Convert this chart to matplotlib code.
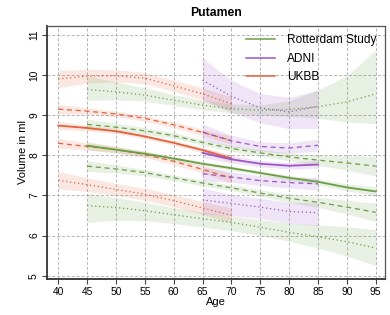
import matplotlib
matplotlib.use('Agg')
import matplotlib.pyplot as plt
import numpy as np

plt.rcParams['font.family'] = ['Liberation Sans', 'DejaVu Sans']

# Rotterdam Study, ages 45-95
rsAges = [45, 50, 55, 60, 65, 70, 75, 80, 85, 90, 95]
rsTop = [9.64, 9.58, 9.50, 9.37, 9.25, 9.16, 9.12, 9.14, 9.21, 9.33, 9.53]
rsTopHi = [0.33, 0.25, 0.18, 0.14, 0.12, 0.12, 0.14, 0.22, 0.42, 0.65, 1.10]
rsTopLo = [0.27, 0.20, 0.15, 0.13, 0.12, 0.11, 0.12, 0.17, 0.29, 0.50, 0.74]
rsUpper = [8.77, 8.70, 8.61, 8.49, 8.32, 8.17, 8.06, 7.96, 7.88, 7.81, 7.73]
rsUpperW = [0.13, 0.10, 0.08, 0.07, 0.07, 0.07, 0.08, 0.10, 0.13, 0.18, 0.25]
rsMid = [8.24, 8.14, 8.04, 7.92, 7.79, 7.68, 7.56, 7.44, 7.34, 7.20, 7.10]
rsMidW = [0.10, 0.08, 0.06, 0.05, 0.05, 0.05, 0.05, 0.06, 0.07, 0.09, 0.11]
rsLower = [7.73, 7.66, 7.57, 7.44, 7.31, 7.19, 7.06, 6.93, 6.83, 6.71, 6.58]
rsLowerW = [0.13, 0.10, 0.08, 0.07, 0.07, 0.07, 0.08, 0.10, 0.13, 0.17, 0.23]
rsBot = [6.75, 6.70, 6.62, 6.52, 6.42, 6.33, 6.21, 6.08, 5.97, 5.85, 5.69]
rsBotHi = [0.30, 0.25, 0.21, 0.18, 0.16, 0.16, 0.19, 0.24, 0.30, 0.37, 0.46]
rsBotLo = [0.42, 0.32, 0.25, 0.22, 0.21, 0.21, 0.21, 0.22, 0.28, 0.36, 0.44]

# ADNI, ages 65-85
adAges = [65, 70, 75, 80, 85]
adTop = [9.87, 9.47, 9.18, 9.08, 9.22]
adTopHi = [0.55, 0.40, 0.36, 0.36, 0.40]
adTopLo = [0.50, 0.40, 0.37, 0.42, 0.55]
adUpper = [8.58, 8.36, 8.22, 8.18, 8.25]
adUpperW = [0.20, 0.14, 0.12, 0.13, 0.15]
adMid = [8.06, 7.90, 7.79, 7.74, 7.77]
adMidW = [0.12, 0.09, 0.08, 0.08, 0.10]
adLower = [7.54, 7.46, 7.37, 7.32, 7.29]
adLowerW = [0.18, 0.13, 0.12, 0.13, 0.16]
adBot = [6.89, 6.80, 6.71, 6.60, 6.57]
adBotHi = [0.30, 0.22, 0.22, 0.23, 0.26]
adBotLo = [0.35, 0.30, 0.28, 0.28, 0.32]

# UKBB, ages 40-70
ukAges = [40, 45, 50, 55, 60, 65, 70]
ukTop = [9.90, 9.97, 9.98, 9.92, 9.73, 9.53, 9.28]
ukTopW = [0.22, 0.17, 0.15, 0.14, 0.14, 0.15, 0.18]
ukUpper = [9.15, 9.10, 9.03, 8.92, 8.76, 8.57, 8.37]
ukUpperW = [0.12, 0.08, 0.07, 0.07, 0.07, 0.08, 0.10]
ukMid = [8.74, 8.68, 8.60, 8.47, 8.31, 8.13, 7.92]
ukMidW = [0.10, 0.07, 0.06, 0.06, 0.06, 0.07, 0.09]
ukLower = [8.30, 8.22, 8.14, 8.02, 7.85, 7.65, 7.43]
ukLowerW = [0.12, 0.09, 0.08, 0.08, 0.08, 0.09, 0.12]
ukBot = [7.38, 7.27, 7.15, 7.03, 6.87, 6.69, 6.50]
ukBotW = [0.22, 0.17, 0.15, 0.15, 0.15, 0.16, 0.19]

green = '#6a9f45'
purple = '#9b55c4'
orange = '#e2623c'

fig = plt.figure(figsize=(3.9, 3.15), dpi=100)
ax = fig.add_axes([0.1197, 0.1143, 0.8674, 0.8032])


def band(ages, center, lo, hi, color):
    c = np.array(center)
    ax.fill_between(ages, c - np.array(lo), c + np.array(hi), color=color,
                    alpha=0.15, linewidth=0, zorder=2)


def cohort(ages, curves, color):
    # curves: (center, lo, hi, style, lw)
    for center, lo, hi, style, lw in curves:
        band(ages, center, lo, hi, color)
    for center, lo, hi, style, lw in curves:
        if style == ':':
            ax.plot(ages, center, color=color, lw=lw, dashes=(1, 2.2), zorder=3)
        elif style == '--':
            ax.plot(ages, center, color=color, lw=lw, dashes=(4, 3), zorder=3)
        else:
            ax.plot(ages, center, color=color, lw=lw, zorder=3)


cohort(ukAges, [(ukTop, ukTopW, ukTopW, ':', 0.9),
                (ukUpper, ukUpperW, ukUpperW, '--', 0.9),
                (ukMid, ukMidW, ukMidW, '-', 1.3),
                (ukLower, ukLowerW, ukLowerW, '--', 0.9),
                (ukBot, ukBotW, ukBotW, ':', 0.9)], orange)
cohort(rsAges, [(rsTop, rsTopLo, rsTopHi, ':', 0.9),
                (rsUpper, rsUpperW, rsUpperW, '--', 0.9),
                (rsMid, rsMidW, rsMidW, '-', 1.3),
                (rsLower, rsLowerW, rsLowerW, '--', 0.9),
                (rsBot, rsBotLo, rsBotHi, ':', 0.9)], green)
cohort(adAges, [(adTop, adTopLo, adTopHi, ':', 0.9),
                (adUpper, adUpperW, adUpperW, '--', 0.9),
                (adMid, adMidW, adMidW, '-', 1.3),
                (adLower, adLowerW, adLowerW, '--', 0.9),
                (adBot, adBotLo, adBotHi, ':', 0.9)], purple)

# legend handles
h1, = ax.plot([], [], color=green, lw=1.1)
h2, = ax.plot([], [], color=purple, lw=1.1)
h3, = ax.plot([], [], color=orange, lw=1.1)
ax.legend([h1, h2, h3], ['Rotterdam Study', 'ADNI', 'UKBB'], loc='upper right',
          frameon=False, fontsize=8.6, handlelength=2.4, handletextpad=1.0,
          labelspacing=0.55, borderaxespad=0.3)

ax.set_xlim(38, 96.6)
ax.set_ylim(4.92, 11.22)
ax.set_xticks(np.arange(40, 96, 5))
ax.set_yticks(np.arange(5, 12, 1))
ax.grid(True, color='#b4b4b4', linestyle=(0, (3, 2)), linewidth=0.7, zorder=0)
ax.set_axisbelow(True)
ax.tick_params(axis='both', labelsize=7.4, length=3.5, width=0.8, color='#444444', pad=2)
for lbl in ax.get_yticklabels():
    lbl.set_rotation(90)
    lbl.set_va('center')
for side in ['top', 'right']:
    ax.spines[side].set_color('#555555')
    ax.spines[side].set_linewidth(0.9)
for side in ['left', 'bottom']:
    ax.spines[side].set_color('#333333')
    ax.spines[side].set_linewidth(1.3)

ax.set_xlabel('Age', fontsize=8, labelpad=0)
ax.set_ylabel('Volume in ml', fontsize=8, labelpad=1)
ax.set_title('Putamen', fontsize=8.8, fontweight='bold', pad=7)

fig.savefig('out.png', dpi=100)
